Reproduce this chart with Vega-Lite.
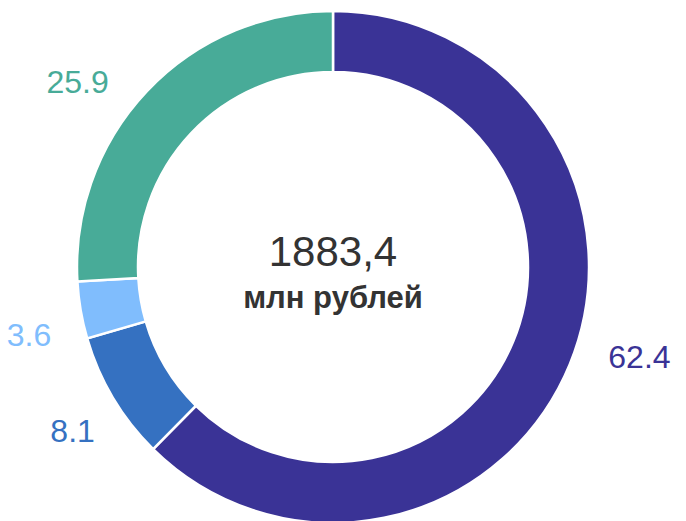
{
  "$schema": "https://vega.github.io/schema/vega-lite/v6.json",
  "width": 666,
  "height": 508,
  "autosize": "none",
  "padding": {"left": 0, "right": 20, "top": 13, "bottom": 0},
  "background": "white",
  "view": {"stroke": null},
  "datasets": {
    "shares": [
      {"segment": "A", "value": 62.4, "order": 1},
      {"segment": "B", "value": 8.1, "order": 2},
      {"segment": "C", "value": 3.6, "order": 3},
      {"segment": "D", "value": 25.9, "order": 4}
    ],
    "center": [
      {"total": "1883,4", "unit": "млн рублей"}
    ]
  },
  "layer": [
    {
      "data": {"name": "shares"},
      "mark": {"type": "arc", "outerRadius": 256, "innerRadius": 195, "stroke": "white", "strokeWidth": 2.5},
      "encoding": {
        "theta": {"field": "value", "type": "quantitative", "stack": true},
        "order": {"field": "order", "type": "quantitative"},
        "color": {
          "field": "segment", "type": "nominal", "legend": null,
          "scale": {"domain": ["A", "B", "C", "D"], "range": ["#3a3396", "#3571c1", "#80bdfd", "#48ab98"]}
        }
      }
    },
    {
      "data": {"name": "shares"},
      "mark": {"type": "text", "radius": 290, "thetaOffset": -0.07, "fontSize": 32, "font": "Liberation Sans", "baseline": "middle",
        "align": {"expr": "datum.segment === 'A' ? 'left' : 'right'"}},
      "encoding": {
        "theta": {"field": "value", "type": "quantitative", "stack": true},
        "order": {"field": "order", "type": "quantitative"},
        "text": {"field": "value", "type": "quantitative", "format": ".1f"},
        "color": {
          "field": "segment", "type": "nominal", "legend": null,
          "scale": {"domain": ["A", "B", "C", "D"], "range": ["#3a3396", "#3571c1", "#80bdfd", "#48ab98"]}
        }
      }
    },
    {
      "data": {"name": "center"},
      "mark": {"type": "text", "fontSize": 42, "font": "Liberation Sans", "color": "#333333", "baseline": "alphabetic", "align": "center", "dy": -1},
      "encoding": {"text": {"field": "total", "type": "nominal"}}
    },
    {
      "data": {"name": "center"},
      "mark": {"type": "text", "fontSize": 31, "font": "Liberation Sans", "fontWeight": "bold", "color": "#333333", "baseline": "alphabetic", "align": "center", "dy": 41},
      "encoding": {"text": {"field": "unit", "type": "nominal"}}
    }
  ]
}
